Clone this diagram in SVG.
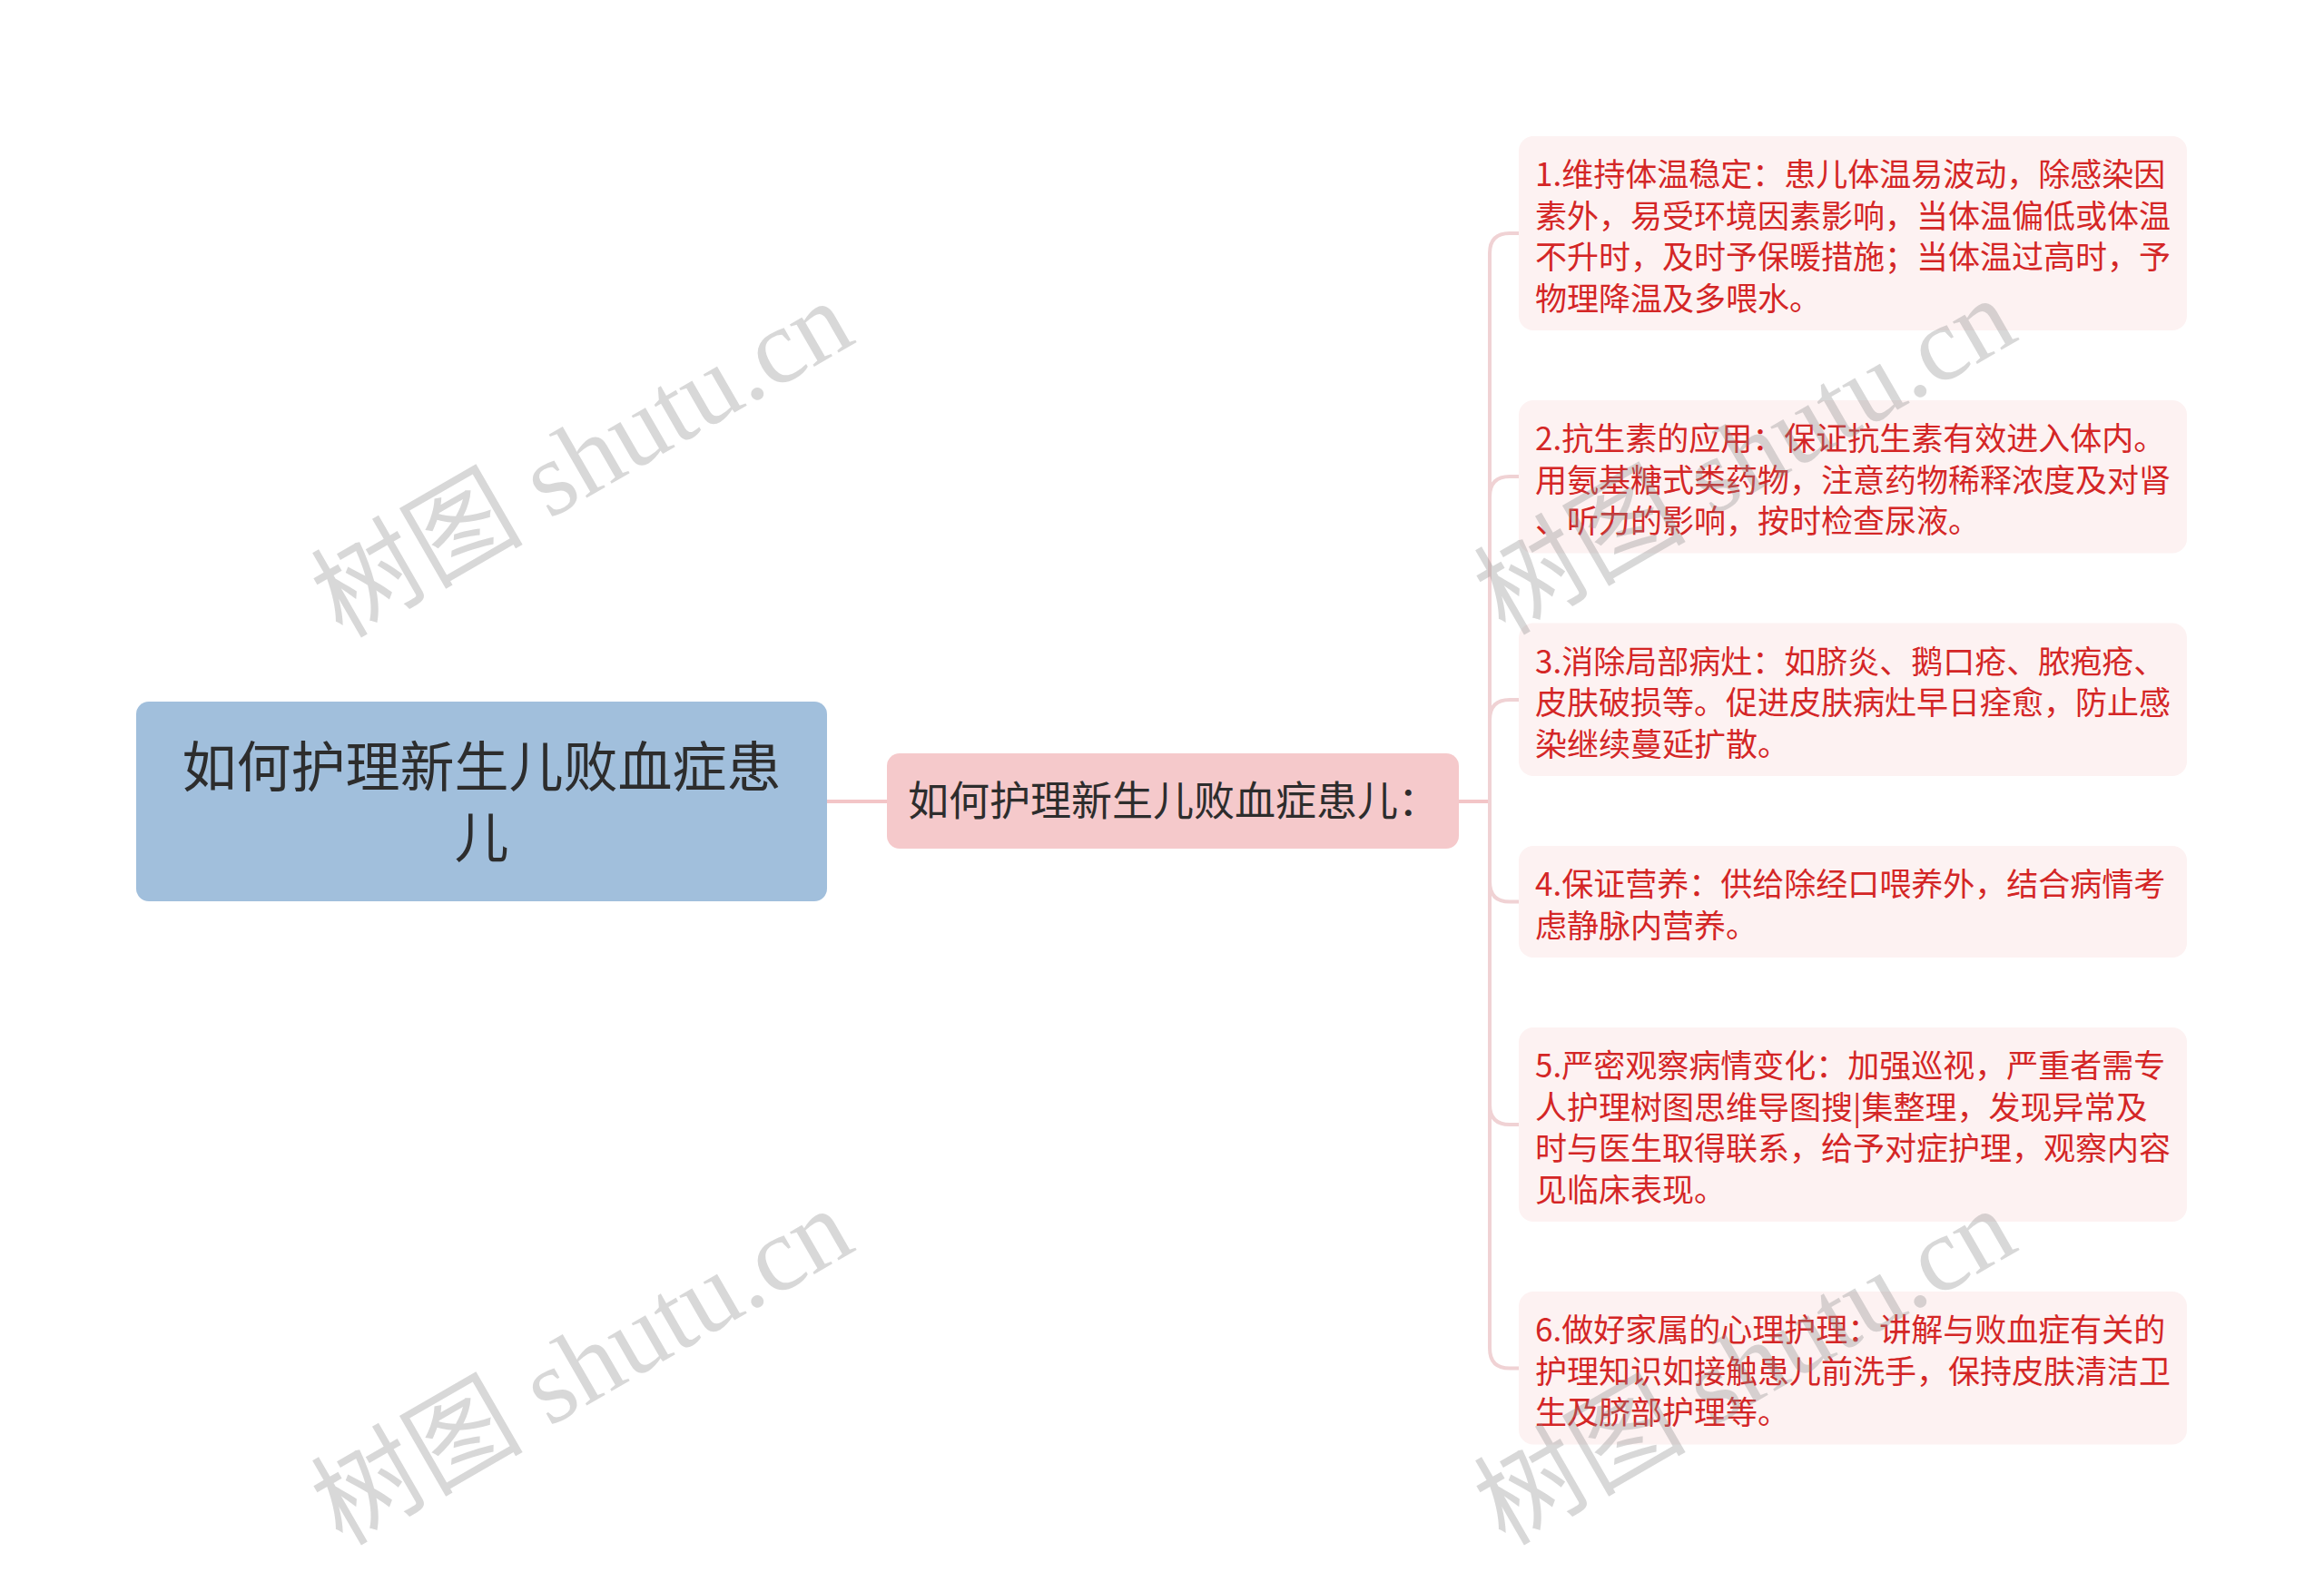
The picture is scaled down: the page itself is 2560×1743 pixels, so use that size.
<svg xmlns="http://www.w3.org/2000/svg" width="2560" height="1743" viewBox="0 0 2560 1743">
<style>
.t{font-family:"Noto Sans CJK SC","Noto Sans",sans-serif}
.root-t{font-size:60px;fill:#2d2d2d;text-anchor:middle}
.mid-t{font-size:45px;fill:#2d2d2d}
.leaf-t{font-size:35px;fill:#d42626}
.leaf-r{fill:#fdf2f2}
.c1{fill:none;stroke:#f3c5c7;stroke-width:4}
.c2{fill:none;stroke:#f0d2d4;stroke-width:4}
.wm{font-family:"Liberation Serif","Noto Sans CJK SC",serif;font-size:117px;fill:#8a8a8a;fill-opacity:0.33}
</style>
<rect width="2560" height="1743" fill="#ffffff"/>
<g id="connectors">
<path class="c1" d="M911 883 H977"/>
<path class="c1" d="M1607 883 H1641"/>
<path class="c2" d="M1641 883 V279 Q1641 257 1663 257 H1673"/>
<path class="c2" d="M1641 883 V547 Q1641 525 1663 525 H1673"/>
<path class="c2" d="M1641 883 V793 Q1641 771 1663 771 H1673"/>
<path class="c2" d="M1641 883 V971.5 Q1641 993.5 1663 993.5 H1673"/>
<path class="c2" d="M1641 883 V1217 Q1641 1239 1663 1239 H1673"/>
<path class="c2" d="M1641 883 V1485.5 Q1641 1507.5 1663 1507.5 H1673"/>
</g>
<g id="root">
<rect x="150" y="773" width="761" height="220" rx="14" fill="#a1bfdc"/>
<text class="t root-t" x="530.5" y="867">如何护理新生儿败血症患</text>
<text class="t root-t" x="530.5" y="945">儿</text>
</g>
<g id="mid">
<rect x="977" y="830" width="630" height="105" rx="14" fill="#f5c9cb"/>
<text class="t mid-t" x="1000" y="899">如何护理新生儿败血症患儿：</text>
</g>
<g id="leaf1">
<rect class="leaf-r" x="1673" y="150" width="736" height="214" rx="16"/>
<text class="t leaf-t" x="1691" y="205">1.维持体温稳定：患儿体温易波动，除感染因</text>
<text class="t leaf-t" x="1691" y="250.5">素外，易受环境因素影响，当体温偏低或体温</text>
<text class="t leaf-t" x="1691" y="296">不升时，及时予保暖措施；当体温过高时，予</text>
<text class="t leaf-t" x="1691" y="341.5">物理降温及多喂水。</text>
</g>
<g id="leaf2">
<rect class="leaf-r" x="1673" y="441" width="736" height="168.5" rx="16"/>
<text class="t leaf-t" x="1691" y="496">2.抗生素的应用：保证抗生素有效进入体内。</text>
<text class="t leaf-t" x="1691" y="541.5">用氨基糖式类药物，注意药物稀释浓度及对肾</text>
<text class="t leaf-t" x="1691" y="587">、听力的影响，按时检查尿液。</text>
</g>
<g id="leaf3">
<rect class="leaf-r" x="1673" y="686.5" width="736" height="168.5" rx="16"/>
<text class="t leaf-t" x="1691" y="741.5">3.消除局部病灶：如脐炎、鹅口疮、脓疱疮、</text>
<text class="t leaf-t" x="1691" y="787">皮肤破损等。促进皮肤病灶早日痊愈，防止感</text>
<text class="t leaf-t" x="1691" y="832.5">染继续蔓延扩散。</text>
</g>
<g id="leaf4">
<rect class="leaf-r" x="1673" y="932" width="736" height="123" rx="16"/>
<text class="t leaf-t" x="1691" y="987">4.保证营养：供给除经口喂养外，结合病情考</text>
<text class="t leaf-t" x="1691" y="1032.5">虑静脉内营养。</text>
</g>
<g id="leaf5">
<rect class="leaf-r" x="1673" y="1132" width="736" height="214" rx="16"/>
<text class="t leaf-t" x="1691" y="1187">5.严密观察病情变化：加强巡视，严重者需专</text>
<text class="t leaf-t" x="1691" y="1232.5">人护理树图思维导图搜|集整理，发现异常及</text>
<text class="t leaf-t" x="1691" y="1278">时与医生取得联系，给予对症护理，观察内容</text>
<text class="t leaf-t" x="1691" y="1323.5">见临床表现。</text>
</g>
<g id="leaf6">
<rect class="leaf-r" x="1673" y="1423" width="736" height="168.5" rx="16"/>
<text class="t leaf-t" x="1691" y="1478">6.做好家属的心理护理：讲解与败血症有关的</text>
<text class="t leaf-t" x="1691" y="1523.5">护理知识如接触患儿前洗手，保持皮肤清洁卫</text>
<text class="t leaf-t" x="1691" y="1569">生及脐部护理等。</text>
</g>
<g id="watermarks">
<text class="wm" text-anchor="middle" transform="translate(661 540) rotate(-30)">树图 shutu.cn</text>
<text class="wm" text-anchor="middle" transform="translate(661 1540) rotate(-30)">树图 shutu.cn</text>
<text class="wm" text-anchor="middle" transform="translate(1942 537) rotate(-30)">树图 shutu.cn</text>
<text class="wm" text-anchor="middle" transform="translate(1942 1540) rotate(-30)">树图 shutu.cn</text>
</g>
</svg>
